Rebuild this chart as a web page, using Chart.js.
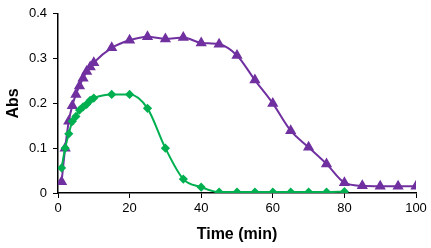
<!DOCTYPE html>
<html>
<head>
<meta charset="utf-8">
<script src="https://cdn.jsdelivr.net/npm/chart.js@4.4.1/dist/chart.umd.min.js"></script>
<style>
html,body{margin:0;padding:0;background:#fff;}
#wrap{width:431px;height:248px;}
</style>
</head>
<body>
<div id="wrap"><canvas id="c" width="431" height="248"></canvas></div>
<script>
const timesPurple = [1,2,3,4,5,6,7,8,9,10,15,20,25,30,35,40,45,50,55,60,65,70,75,80,85,90,95,100];
const absPurple = [0.025,0.10,0.16,0.195,0.22,0.239,0.256,0.271,0.281,0.291,0.324,0.341,0.349,0.344,0.347,0.335,0.332,0.307,0.252,0.200,0.139,0.102,0.065,0.023,0.016,0.015,0.015,0.015];
const timesGreen = [1,2,3,4,5,6,7,8,9,10,15,20,25,30,35,40,45,50,55,60,65,70,75,80];
const absGreen = [0.056,0.10,0.132,0.16,0.171,0.185,0.192,0.198,0.207,0.212,0.220,0.220,0.189,0.100,0.031,0.013,0.002,0.002,0.002,0.002,0.002,0.002,0.002,0.003];
const xTicks = [0,20,40,60,80,100];
const yTicks = [0,0.1,0.2,0.3,0.4];

const toPts = (xs, ys) => xs.map((x,i)=>({x:x,y:ys[i]}));
const font = "'Liberation Sans', Arial, sans-serif";

new Chart(document.getElementById('c'), {
  type: 'line',
  data: {
    datasets: [
      {
        data: toPts(timesGreen, absGreen),
        borderColor: '#00B050', backgroundColor: '#00B050',
        borderWidth: 2, pointStyle: 'rectRot', pointRadius: 3.2,
        tension: 0.35, cubicInterpolationMode: 'monotone'
      },
      {
        data: toPts(timesPurple, absPurple),
        borderColor: '#7030A0', backgroundColor: '#7030A0',
        borderWidth: 2, pointStyle: 'triangle', pointRadius: 4.5,
        tension: 0.35, cubicInterpolationMode: 'monotone'
      }
    ]
  },
  options: {
    responsive: false, animation: false,
    layout: { padding: { top: 12.5, right: 15, left: 0, bottom: 0 } },
    plugins: { legend: { display: false }, tooltip: { enabled: false } },
    scales: {
      x: {
        type: 'linear', min: 0, max: 100,
        afterBuildTicks: s => { s.ticks = xTicks.map(v=>({value:v})); },
        afterFit: s => { s.height = 55; },
        border: { color: '#000', width: 1.5 },
        grid: { drawOnChartArea: false, drawTicks: true, tickLength: 5, color: '#000', tickColor: '#000' },
        ticks: { color: '#000', font: { family: font, size: 13 }, padding: 3, maxRotation: 0 },
        title: { display: true, text: 'Time (min)', color: '#000', font: { family: font, size: 16, weight: 'bold' }, padding: { top: 8 } }
      },
      y: {
        min: 0, max: 0.4,
        afterBuildTicks: s => { s.ticks = yTicks.map(v=>({value:v})); },
        afterFit: s => { s.width = 58; },
        border: { color: '#000', width: 1.5 },
        grid: { drawOnChartArea: false, drawTicks: true, tickLength: 5, color: '#000', tickColor: '#000' },
        ticks: { color: '#000', font: { family: font, size: 13 }, padding: 6 },
        title: { display: true, text: 'Abs', color: '#000', font: { family: font, size: 16, weight: 'bold' }, padding: { bottom: 2 } }
      }
    }
  }
});
</script>
</body>
</html>
